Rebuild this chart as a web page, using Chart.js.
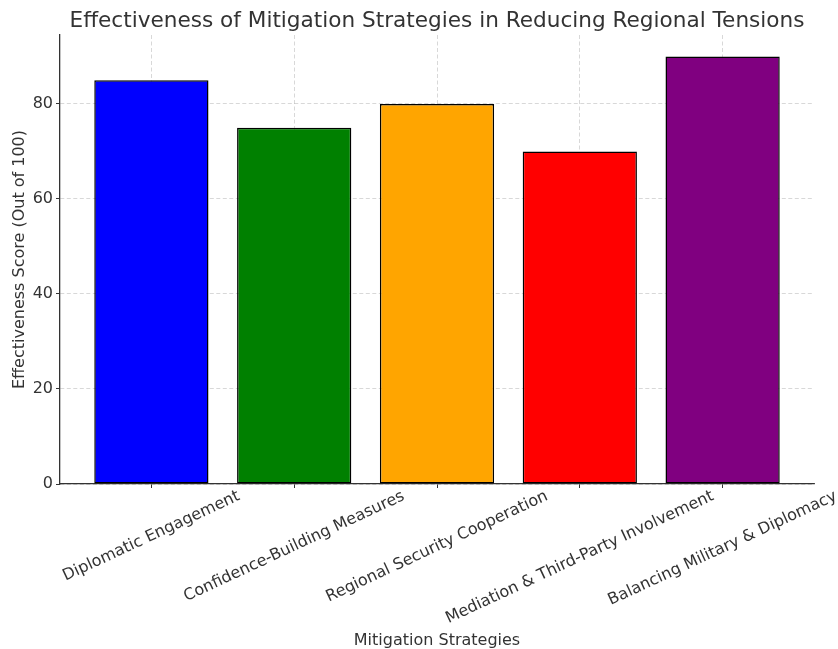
<!DOCTYPE html>
<html>
<head>
<meta charset="utf-8">
<script src="https://cdn.jsdelivr.net/npm/chart.js@4.4.1/dist/chart.umd.min.js"></script>
<style>
    html, body { margin: 0; padding: 0; background: #fff; }
    #wrap { width: 838px; height: 649px; }
</style>
</head>
<body>
<div id="wrap"><canvas id="strategyChart" width="838" height="649"></canvas></div>
<script>
const strategies = [
    'Diplomatic Engagement',
    'Confidence-Building Measures',
    'Regional Security Cooperation',
    'Mediation & Third-Party Involvement',
    'Balancing Military & Diplomacy'
];
const scores = [85, 75, 80, 70, 90];
const barColors = ['#0000ff', '#008000', '#ffa500', '#ff0000', '#800080'];
const yTicks = [0, 20, 40, 60, 80];
const chartTitle = 'Effectiveness of Mitigation Strategies in Reducing Regional Tensions';
const xTitle = 'Mitigation Strategies';
const yTitle = 'Effectiveness Score (Out of 100)';

const textColor = '#333333';
const fontFamily = '"DejaVu Sans", sans-serif';
const gridColor = 'rgba(165, 165, 165, 0.55)';

// title centred over the plot area, like matplotlib does
const titlePlugin = {
    id: 'axesTitle',
    afterDraw(chart) {
        const { ctx, chartArea } = chart;
        ctx.save();
        ctx.font = '21.6px ' + fontFamily;
        ctx.fillStyle = textColor;
        ctx.textAlign = 'center';
        ctx.textBaseline = 'alphabetic';
        ctx.fillText(chartTitle, (chartArea.left + chartArea.right) / 2, chartArea.top - 8);
        ctx.restore();
    }
};

// rotated category labels, centred under each tick
const xLabelPlugin = {
    id: 'xLabels',
    afterDraw(chart) {
        const { ctx } = chart;
        const x = chart.scales.x;
        const angle = 25 * Math.PI / 180;
        const lineH = 18.6;
        ctx.save();
        ctx.font = '16px ' + fontFamily;
        ctx.fillStyle = textColor;
        ctx.textAlign = 'center';
        ctx.textBaseline = 'middle';
        strategies.forEach(function(label, i) {
            const w = ctx.measureText(label).width;
            const boxH = w * Math.sin(angle) + lineH * Math.cos(angle);
            const cx = x.getPixelForValue(i);
            const cy = x.top + 3 + boxH / 2;
            ctx.save();
            ctx.translate(cx, cy);
            ctx.rotate(-angle);
            ctx.fillText(label, 0, 0);
            ctx.restore();
        });
        ctx.restore();
    }
};

document.addEventListener('DOMContentLoaded', function() {
    const ctx = document.getElementById('strategyChart').getContext('2d');
    new Chart(ctx, {
        type: 'bar',
        data: {
            datasets: [{
                data: strategies.map(function(s, i) { return { x: i, y: scores[i] }; }),
                backgroundColor: barColors,
                borderColor: '#000000',
                borderWidth: 1.5,
                borderSkipped: false,
                barPercentage: 0.8,
                categoryPercentage: 1.0
            }]
        },
        options: {
            responsive: false,
            animation: false,
            devicePixelRatio: 1,
            layout: { padding: { top: 35, right: 24, left: 0, bottom: 0 } },
            plugins: {
                legend: { display: false },
                title: { display: false },
                tooltip: { enabled: false }
            },
            scales: {
                x: {
                    type: 'linear',
                    min: -0.64,
                    max: 4.64,
                    offset: false,
                    z: 1,
                    afterBuildTicks: function(s) {
                        s.ticks = strategies.map(function(_, i) { return { value: i }; });
                    },
                    afterFit: function(s) { s.height = 165; },
                    ticks: { display: false },
                    grid: {
                        offset: false,
                        color: gridColor,
                        lineWidth: 0.8,
                        drawTicks: true,
                        tickLength: 4,
                        tickColor: textColor,
                        tickWidth: 1,
                        tickBorderDash: []
                    },
                    border: { display: true, color: textColor, width: 1.3, dash: [4, 2.5] },
                    title: {
                        display: true,
                        text: xTitle,
                        color: textColor,
                        font: { family: fontFamily, size: 16, lineHeight: 1 },
                        padding: { top: 0, bottom: 0 }
                    }
                },
                y: {
                    min: 0,
                    max: 94.5,
                    z: 1,
                    afterBuildTicks: function(s) {
                        s.ticks = yTicks.map(function(v) { return { value: v }; });
                    },
                    afterFit: function(s) { s.width = 60; },
                    ticks: {
                        color: textColor,
                        font: { family: fontFamily, size: 16 },
                        padding: 3
                    },
                    grid: {
                        color: gridColor,
                        lineWidth: 0.8,
                        drawTicks: true,
                        tickLength: 4,
                        tickColor: textColor,
                        tickWidth: 1,
                        tickBorderDash: []
                    },
                    border: { display: true, color: textColor, width: 1.3, dash: [4, 2.5] },
                    title: {
                        display: true,
                        text: yTitle,
                        color: textColor,
                        font: { family: fontFamily, size: 16, lineHeight: 1 },
                        padding: { top: 12, bottom: 0 }
                    }
                }
            }
        },
        plugins: [titlePlugin, xLabelPlugin]
    });
});
</script>
</body>
</html>
